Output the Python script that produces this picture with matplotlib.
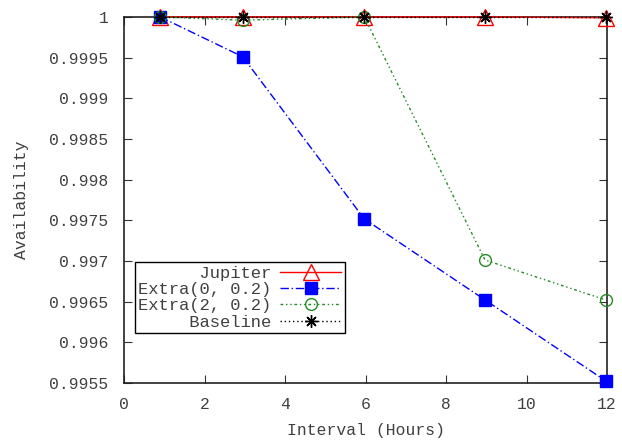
import matplotlib
matplotlib.use("Agg")
import matplotlib.pyplot as plt

plt.rcParams['font.family'] = ['Liberation Mono', 'DejaVu Sans Mono']
plt.rcParams['font.size'] = 11.8

# interval in hours
interval = [0.9, 2.95, 5.97, 8.97, 11.97]

jupiter = [1.0, 1.0, 1.0, 1.0, 0.99999]
extra_0 = [1.0, 0.99951, 0.997517, 0.996521, 0.995525]
extra_2 = [1.0, 0.99996, 1.0, 0.997012, 0.996521]
baseline = [1.0, 1.0, 1.0, 1.0, 1.0]

labels = ['      Jupiter', 'Extra(0, 0.2)', 'Extra(2, 0.2)', '     Baseline']
yticks = [0.9955, 0.996, 0.9965, 0.997, 0.9975, 0.998, 0.9985, 0.999, 0.9995, 1]
ytick_labels = ['0.9955', '0.996', '0.9965', '0.997', '0.9975', '0.998', '0.9985', '0.999', '0.9995', '1']

fig = plt.figure(figsize=(6.22, 4.40), dpi=100)
ax = fig.add_axes([0.1994, 0.1295, 0.7765, 0.832])

ax.plot(interval, jupiter, color='red', linestyle='-', linewidth=1,
        marker='^', markersize=11, markerfacecolor='none', markeredgecolor='red',
        label=labels[0], clip_on=False, zorder=3)
ax.plot(interval, extra_0, color='blue', linestyle=(0, (6, 2, 1, 2)), linewidth=1,
        marker='s', markersize=8.5, markerfacecolor='blue', markeredgecolor='blue',
        label=labels[1], clip_on=False, zorder=3)
ax.plot(interval, extra_2, color='#228b22', linestyle=(0, (2, 2, 1, 2, 1, 2)), linewidth=1,
        marker='o', markersize=8.5, markerfacecolor='none', markeredgecolor='#228b22',
        label=labels[2], clip_on=False, zorder=3)
ax.plot(interval, baseline, color='black', linestyle=(0, (1, 2)), linewidth=1,
        marker=(8, 2, 0), markersize=9, markeredgecolor='black',
        label=labels[3], clip_on=False, zorder=4)

ax.set_xlim(0, 12)
ax.set_ylim(0.9955, 1.0)
ax.set_xticks([0, 2, 4, 6, 8, 10, 12])
ax.set_yticks(yticks)
ax.set_yticklabels(ytick_labels)
ax.tick_params(direction='in', length=6, top=True, right=True, colors='#333333',
               labelcolor='#404040')
ax.tick_params(axis='x', pad=10)
ax.tick_params(axis='y', pad=11)
for s in ax.spines.values():
    s.set_linewidth(1.2)
    s.set_color('#222222')

ax.set_xlabel('Interval (Hours)', color='#404040', labelpad=8)
ax.set_ylabel('Availability', color='#404040', labelpad=15)

leg = ax.legend(loc='lower left', bbox_to_anchor=(0.022, 0.136), markerfirst=False,
                frameon=True, fancybox=False, edgecolor='black', framealpha=1,
                borderpad=0.2, labelspacing=0.08, handlelength=3.6, handletextpad=0.5,
                borderaxespad=0, fontsize=12.3)
leg.get_frame().set_linewidth(1)
for t in leg.get_texts():
    t.set_color('#404040')

fig.savefig('out.png', dpi=100)
